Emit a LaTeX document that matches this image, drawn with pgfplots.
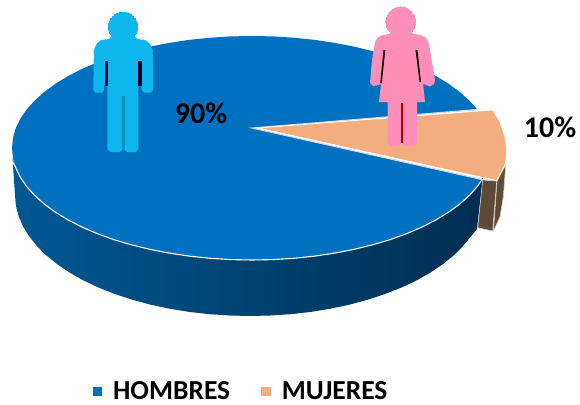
\documentclass[border=0pt]{standalone}
\usepackage{pgfplots}
\pgfplotsset{compat=1.18}
\usepackage{fontspec}
\setmainfont{Carlito}
\definecolor{cblue}{HTML}{0070C0}
\definecolor{cpeach}{HTML}{F2AE7E}
\definecolor{cbrown}{HTML}{604A36}
\definecolor{cman}{HTML}{0DB6EE}
\definecolor{cwoman}{HTML}{FF8FB8}
\definecolor{gA}{HTML}{0067AC}
\definecolor{gB}{HTML}{005895}
\definecolor{gC}{HTML}{004372}
\definecolor{gD}{HTML}{002C50}
\definecolor{gE}{HTML}{002A4C}
\pgfdeclarehorizontalshading{sidegrad}{100bp}{color(0bp)=(gA); color(25bp)=(gB); color(50bp)=(gC); color(76bp)=(gD); color(100bp)=(gE)}
\begin{document}
\begin{tikzpicture}
\useasboundingbox (0,0) rectangle (580pt,404pt);
\begin{axis}[
  at={(0,0)}, anchor=south west,
  scale only axis, width=580pt, height=404pt,
  xmin=0, xmax=580, ymin=0, ymax=404, y dir=reverse,
  hide axis, clip=false,
  legend image code/.code={\path[#1,draw=none] (0pt,-4.8pt) rectangle (9.6pt,4.8pt);},
  legend style={at={(axis cs:241,391.5)},anchor=center,draw=none,fill=none,inner sep=0pt,
    font=\fontsize{27.5}{29}\selectfont\bfseries, legend columns=2,
    /tikz/column 1/.style={column sep=9pt},
    /tikz/column 2/.style={column sep=29pt},
    /tikz/column 3/.style={column sep=9pt}},
]
% blue side
\addplot[forget plot, shading=sidegrad, draw=none] coordinates {
(483,177)(477.5,186.3)(469.5,195.3)(459.8,204)(448.6,212.2)(435.8,220)(421.7,227.2)(406.3,233.8)(389.7,239.8)(372,245)(353.4,249.5)(334.1,253.2)(314.1,256.2)(293.7,258.3)(272.9,259.6)(252,260)(231.1,259.6)(210.3,258.3)(189.9,256.2)(169.9,253.2)(150.6,249.5)(132,245)(114.3,239.8)(97.7,233.8)(82.3,227.2)(68.2,220)(55.4,212.2)(44.2,204)(34.5,195.3)(26.5,186.3)(20.2,177)(15.6,167.4)(12.5,158)
(15,195)(15.9,205.6)(18.6,216)(23,226.3)(29.2,236.4)(37,246.1)(46.5,255.5)(57.5,264.4)(70,272.8)(83.8,280.6)(98.9,287.7)(115.2,294.1)(132.5,299.8)(150.7,304.7)(169.6,308.7)(189.2,311.9)(209.2,314.2)(229.5,315.5)(250,316)(270.5,315.5)(290.8,314.2)(310.8,311.9)(330.4,308.7)(349.3,304.7)(367.5,299.8)(384.8,294.1)(401.1,287.7)(416.2,280.6)(430,272.8)(442.5,264.4)(453.5,255.5)(463,246.1)(470.8,236.4)(477,229)
} --cycle;
% blue top
\addplot[fill=cblue, draw=none] coordinates {
(252,128)(477.5,109.7)(469.5,100.7)(459.8,92)(448.6,83.8)(435.8,76)(421.7,68.8)(406.3,62.2)(389.7,56.2)(372,51)(353.4,46.5)(334.1,42.8)(314.1,39.8)(293.7,37.7)(272.9,36.4)(252,36)(231.1,36.4)(210.3,37.7)(189.9,39.8)(169.9,42.8)(150.6,46.5)(132,51)(114.3,56.2)(97.7,62.2)(82.3,68.8)(68.2,76)(55.4,83.8)(44.2,92)(34.5,100.7)(26.5,109.7)(20.2,119)(15.6,128.6)(12.9,138.2)(12,148)
(12.9,157.8)(15.6,167.4)(20.2,177)(26.5,186.3)(34.5,195.3)(44.2,204)(55.4,212.2)(68.2,220)(82.3,227.2)(97.7,233.8)(114.3,239.8)(132,245)(150.6,249.5)(169.9,253.2)(189.9,256.2)(210.3,258.3)(231.1,259.6)(252,260)(272.9,259.6)(293.7,258.3)(314.1,256.2)(334.1,253.2)(353.4,249.5)(372,245)(389.7,239.8)(406.3,233.8)(421.7,227.2)(435.8,220)(448.6,212.2)(459.8,204)(469.5,195.3)(477.5,186.3)(482,179.5)
} --cycle;
\addlegendentry{HOMBRES}
% white rim
\addplot[forget plot, draw=white, line width=1.1pt] coordinates {
(482,179.5)(477.5,186.3)(469.5,195.3)(459.8,204)(448.6,212.2)(435.8,220)(421.7,227.2)(406.3,233.8)(389.7,239.8)(372,245)(353.4,249.5)(334.1,253.2)(314.1,256.2)(293.7,258.3)(272.9,259.6)(252,260)(231.1,259.6)(210.3,258.3)(189.9,256.2)(169.9,253.2)(150.6,249.5)(132,245)(114.3,239.8)(97.7,233.8)(82.3,227.2)(68.2,220)(55.4,212.2)(44.2,204)(34.5,195.3)(26.5,186.3)(20.2,177)(15.6,167.4)(13,162)};
% wedge cut lines of the large slice
\addplot[forget plot, draw=white!85!black, line width=1.1pt] coordinates {(477,109.5)(252,128)(482,179.5)};
% peach slice sides
\addplot[forget plot, fill=cbrown, draw=white!80!black, line width=0.6pt] coordinates {(505.7,165)(497,181)(493.5,231)(500,216.7)(503.3,196.7)} --cycle;
\addplot[forget plot, fill=cbrown, draw=white!80!black, line width=0.6pt] coordinates {(482.7,180)(496.7,181)(492.7,231)(477.7,227.7)} --cycle;
% peach top
\addplot[fill=cpeach, draw=white, line width=0.7pt] coordinates {(258,128)(492.7,110)(500,122)(505,137)(506.7,150)(505.7,163)(496.7,180.5)} --cycle;
\addlegendentry{MUJERES}
% man
\addplot[forget plot, only marks, draw=cman, fill=cman, mark=*, mark size=14.6pt, mark options={solid,fill=cman,draw=cman,line width=0pt}] coordinates {(123,26.7)};
\addplot[forget plot, fill=cman, draw=none] coordinates {
(112,36)(134,36)(137,39)(145,40)(150,44)(152.5,50)(153,60)(153,90)(151,92.7)(144,92.7)(141.7,90)(141.7,85)(138.3,85)(138.3,149)(136,152)(127,152)(124.5,150)(124.5,96)(122,96)(122,150)(119.5,152)(110,152)(107.3,149)(107.3,85)(104,85)(104,90)(102,92.7)(95.5,92.7)(93.3,90)(93.7,60)(94,50)(96.5,44)(101,40)(109,39)} --cycle;
\addplot[forget plot, fill=black!20!cman, draw=none] coordinates {(122,96)(124.5,96)(124.5,150)(122,150)} --cycle;
\addplot[forget plot, fill=black!85!blue, draw=none] coordinates {(105.2,61)(108.2,61)(108.2,86)(105.2,86)} --cycle;
\addplot[forget plot, fill=black!85!blue, draw=none] coordinates {(138.4,61)(141.7,61)(141.7,86)(138.4,86)} --cycle;
% woman
\addplot[forget plot, only marks, draw=cwoman, fill=cwoman, mark=*, mark size=14.8pt, mark options={solid,fill=cwoman,draw=cwoman,line width=0pt}] coordinates {(400.7,21.7)};
\addplot[forget plot, fill=cwoman, draw=none] coordinates {
(392,32)(410,32)(414,34)(421,35)(426,38)(429,44)(435,80)(434,84)(430,86.5)(426,85)(423,84)(425,102)(417,102)(417,143)(415,146)(404,146)(402.7,143)(402.7,103)(401,103)(401,143)(399,146)(390,146)(387.7,143)(387.7,102)(379,102)(381,84)(377,85.5)(373,86)(370,83)(372,60)(375,42)(378,37)(383,35)(389,34)} --cycle;
\addplot[forget plot, fill=black!90!red, draw=none] coordinates {(383.5,50)(385.3,50)(381.8,83)(380.2,83)} --cycle;
\addplot[forget plot, fill=black!90!red, draw=none] coordinates {(415.5,50)(417.5,50)(421,82)(419.5,82)} --cycle;
\addplot[forget plot, fill=red!75!black, draw=none] coordinates {(401,103)(402.7,103)(402.7,143)(401,143)} --cycle;
\node[font=\fontsize{30}{32}\selectfont\bfseries, text=black] at (axis cs:201,113.5) {90\%};
\node[font=\fontsize{30}{32}\selectfont\bfseries, text=black] at (axis cs:550,127.5) {10\%};
\end{axis}
\end{tikzpicture}
\end{document}
